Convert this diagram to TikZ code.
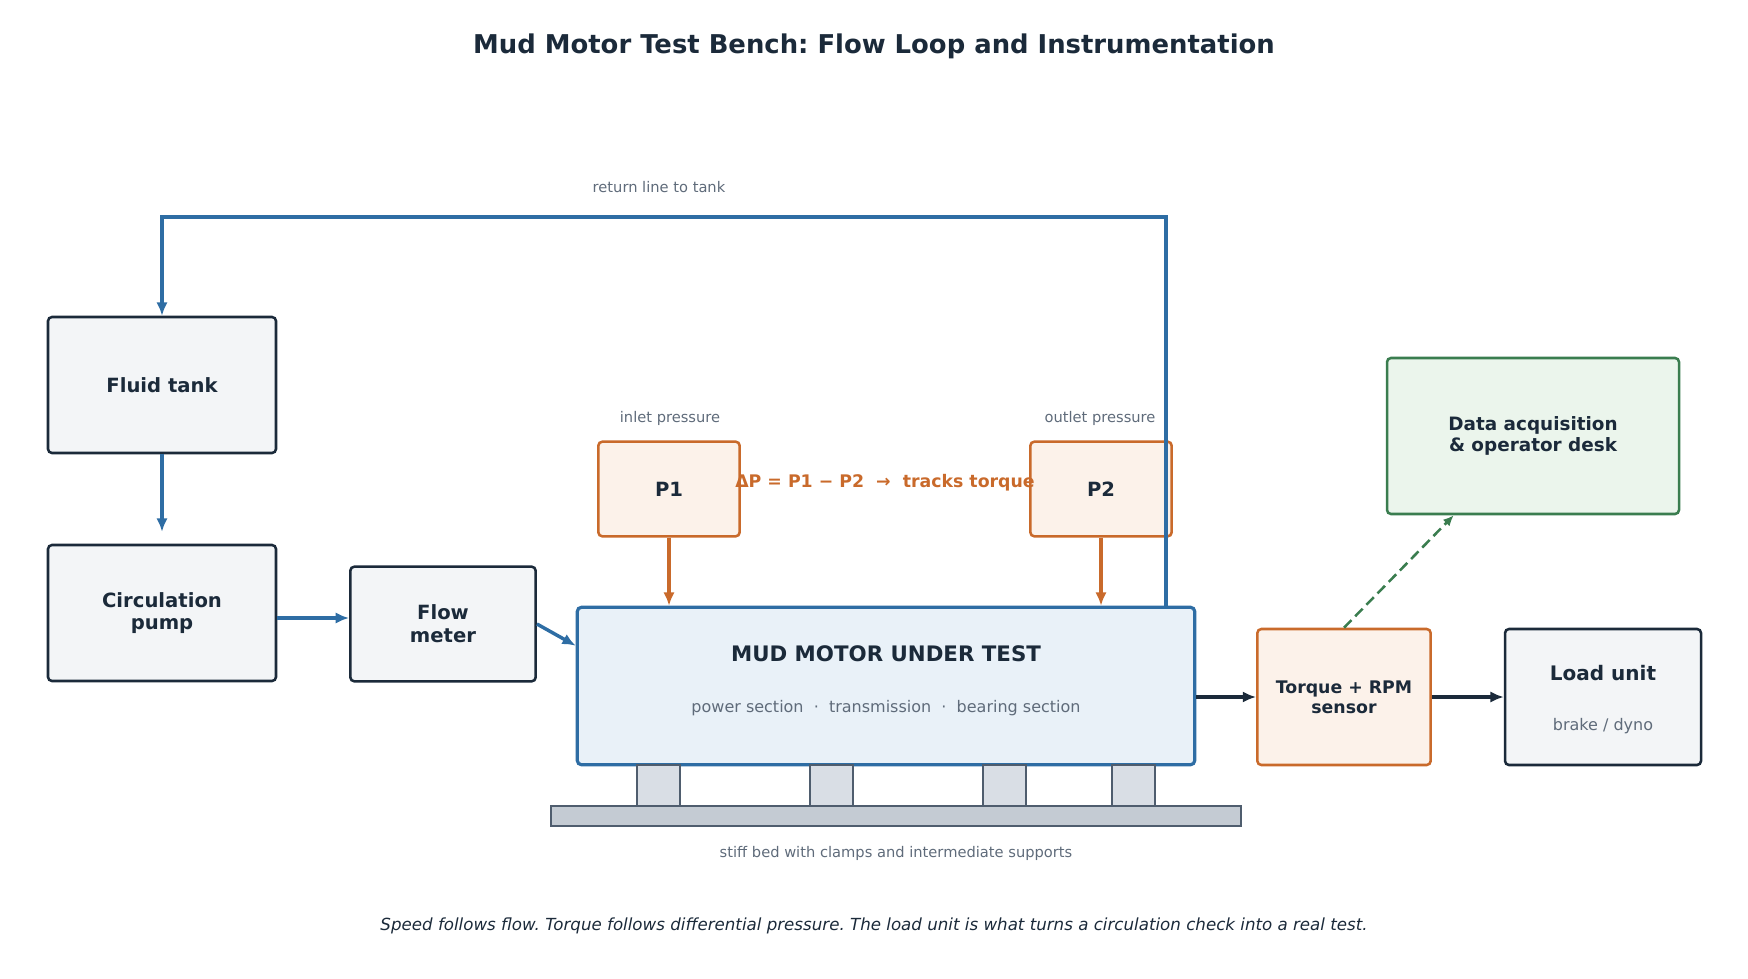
\documentclass[tikz,border=0pt]{standalone}
\usepackage{fontspec}
\setmainfont{DejaVu Sans}
\usetikzlibrary{calc,arrows.meta,positioning}
\frenchspacing

\definecolor{ink}{RGB}{27,42,58}
\definecolor{flowblue}{RGB}{46,109,164}
\definecolor{sensorange}{RGB}{201,106,43}
\definecolor{daqgreen}{RGB}{58,125,79}
\definecolor{note}{RGB}{95,107,122}
\definecolor{boxfill}{RGB}{243,245,247}
\definecolor{orfill}{RGB}{252,242,234}
\definecolor{bluefill}{RGB}{233,241,248}
\definecolor{greenfill}{RGB}{235,245,236}
\definecolor{bedfill}{RGB}{196,203,211}
\definecolor{supfill}{RGB}{217,222,229}
\definecolor{bedline}{RGB}{79,93,110}

\tikzset{
  unit/.style={draw=ink, fill=boxfill, line width=1.9pt, rounded corners=3pt,
    align=center, font=\bfseries\fontsize{14.7}{17}\selectfont, text=ink},
  gauge/.style={unit, draw=sensorange, fill=orfill},
  flowarrow/.style={draw=flowblue, line width=2.6pt, -{Latex[length=10pt,width=8.5pt]}},
  sigarrow/.style={draw=sensorange, line width=2.6pt, -{Latex[length=10pt,width=8.5pt]}},
  drivearrow/.style={draw=ink, line width=2.8pt, -{Latex[length=10pt,width=8.5pt]}},
  small/.style={text=note, font=\fontsize{11}{13}\selectfont},
}

\begin{document}
\begin{tikzpicture}[x=0.75pt, y=-0.75pt]
  \useasboundingbox (0,0) rectangle (1748,978);
  \node[text=ink, font=\bfseries\fontsize{19.4}{23}\selectfont] (title) at (874,46)
    {Mud Motor Test Bench: Flow Loop and Instrumentation};

  % fluid side
  \node[unit, minimum width=171pt, minimum height=102pt] (tank) at (162,385) {Fluid tank};
  \node[unit, minimum width=171pt, minimum height=102pt] (pump) at (162,613) {Circulation\\pump};
  \node[unit, minimum width=139pt, minimum height=86pt] (flow) at (443,624) {Flow\\meter};

  % motor on its bed
  \node[draw=flowblue, fill=bluefill, line width=2.4pt, rounded corners=3pt,
    minimum width=463pt, minimum height=118pt] (motor) at (886,686) {};
  \node[text=ink, font=\bfseries\fontsize{16}{19}\selectfont] (mtitle) at (886,654) {MUD MOTOR UNDER TEST};
  \node[small, font=\fontsize{12}{14}\selectfont] (msub) at (886,708)
    {power section \ · \ transmission \ · \ bearing section};
  \draw[bedline, fill=bedfill, line width=1pt] (551,806) rectangle (1241,826);
  \foreach \sx in {637,810,983,1112}
    \draw[bedline, fill=supfill, line width=1pt] (\sx,765) rectangle ++(43,41);
  \node[small] (bedcap) at (896,853) {stiff bed with clamps and intermediate supports};

  % pressure taps
  \node[gauge, minimum width=106pt, minimum height=71pt] (p1) at (669,489) {P1};
  \node[gauge, minimum width=106pt, minimum height=71pt] (p2) at (1101,489) {P2};
  \node[small] (p1lab) at (670,418) {inlet pressure};
  \node[small] (p2lab) at (1100,418) {outlet pressure};
  \node[text=sensorange, font=\bfseries\fontsize{13}{15}\selectfont] (dp) at (885,483)
    {ΔP = P1 − P2 \ → \ tracks torque};

  % drive train
  \node[gauge, minimum width=130pt, minimum height=102pt, font=\bfseries\fontsize{13}{15}\selectfont]
    (sensor) at (1344,697) {Torque + RPM\\sensor};
  \node[unit, minimum width=147pt, minimum height=102pt] (load) at (1603,697) {};
  \node[text=ink, font=\bfseries\fontsize{15}{18}\selectfont] (loadname) at (1603,673) {Load unit};
  \node[small, font=\fontsize{12}{14}\selectfont] (loadsub) at (1603,726) {brake / dyno};
  \node[unit, draw=daqgreen, fill=greenfill, minimum width=219pt, minimum height=117pt,
    font=\bfseries\fontsize{13.8}{16}\selectfont] (daq) at (1533,436) {Data acquisition\\\& operator desk};

  % flow loop
  \coordinate (ret) at (1166,217);
  \draw[flowarrow] (motor.north -| ret) -- (ret) -| (tank.north);
  \node[small] (retlab) at (659,187) {return line to tank};
  \draw[flowarrow, shorten >=9pt] (tank.south) -- (pump.north);
  \draw[flowarrow] (pump.east |- 0,618) -- (flow.west |- 0,618);
  \draw[flowarrow] (flow.east) -- ($(motor.north west)+(0,40)$);
  \draw[sigarrow] (p1.south) -- (p1.south |- motor.north);
  \draw[sigarrow] (p2.south) -- (p2.south |- motor.north);
  \draw[drivearrow] (motor.east |- sensor) -- (sensor.west);
  \draw[drivearrow] (sensor.east) -- (load.west);
  \draw[daqgreen, line width=1.9pt, dash pattern=on 8pt off 4pt, -{Latex[length=8pt,width=7pt]}]
    (sensor.north) -- ($(daq.south west)+(68,0)$);

  \node[text=ink, font=\itshape\fontsize{12.5}{15}\selectfont] (footer) at (874,926)
    {Speed follows flow. Torque follows differential pressure. The load unit is what turns a circulation check into a real test.};
\end{tikzpicture}
\end{document}
